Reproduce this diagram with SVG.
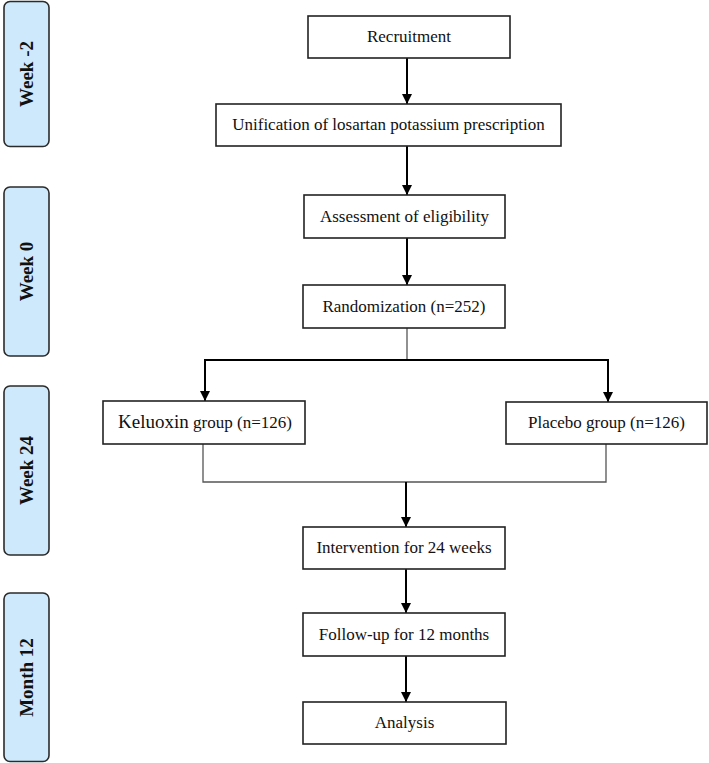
<svg xmlns="http://www.w3.org/2000/svg" width="709" height="763" viewBox="0 0 709 763">
<style>
.phase{fill:#cde9fb;stroke:#2b2b2b;stroke-width:1.6}
.ptxt{font-family:"Liberation Serif","Times New Roman",serif;font-weight:bold;font-size:19px;fill:#111;text-anchor:middle}
.box{fill:#fff;stroke:#222;stroke-width:1.6}
.txt{font-family:"Liberation Serif","Times New Roman",serif;font-size:17px;fill:#111;text-anchor:middle}
.arr{stroke:#000;stroke-width:2;fill:none;marker-end:url(#ah)}
.thick{stroke:#000;stroke-width:2;fill:none}
.thin{stroke:#555;stroke-width:1.3;fill:none}
</style>
<defs>
<marker id="ah" markerWidth="10" markerHeight="12" refX="10" refY="6" orient="auto" markerUnits="userSpaceOnUse">
<path d="M0,1 L10,6 L0,11 Z" fill="#000"/>
</marker>
</defs>
<rect width="709" height="763" fill="#fff"/>

<g id="phase-week-2"><rect class="phase" x="4" y="1.5" width="45" height="145" rx="6"/><text class="ptxt" transform="translate(32.5,74) rotate(-90)">Week -2</text></g>
<g id="phase-week0"><rect class="phase" x="4" y="187" width="45" height="169" rx="6"/><text class="ptxt" transform="translate(32.5,271.5) rotate(-90)">Week 0</text></g>
<g id="phase-week24"><rect class="phase" x="4" y="386" width="45" height="169" rx="6"/><text class="ptxt" transform="translate(32.5,470.5) rotate(-90)">Week 24</text></g>
<g id="phase-month12"><rect class="phase" x="4" y="593" width="45" height="168.5" rx="6"/><text class="ptxt" transform="translate(32.5,677.5) rotate(-90)">Month 12</text></g>

<g id="connectors">
<line class="arr" x1="407" y1="58" x2="407" y2="104"/>
<line class="arr" x1="407" y1="146" x2="407" y2="195"/>
<line class="arr" x1="407" y1="238" x2="407" y2="285"/>
<line class="thin" x1="407" y1="328" x2="407" y2="360"/>
<line class="thick" x1="204" y1="360" x2="609" y2="360"/>
<line class="arr" x1="205" y1="360" x2="205" y2="401"/>
<line class="arr" x1="608" y1="360" x2="608" y2="402"/>
<polyline class="thin" points="203,444 203,482 606,482 606,444"/>
<line class="arr" x1="406" y1="482" x2="406" y2="527"/>
<line class="arr" x1="406" y1="569" x2="406" y2="613"/>
<line class="arr" x1="406" y1="656" x2="406" y2="702"/>
</g>

<g id="recruitment"><rect class="box" x="308" y="16" width="202" height="42"/><text class="txt" x="409" y="42">Recruitment</text></g>
<g id="unification"><rect class="box" x="216" y="104" width="345" height="42"/><text class="txt" x="388.5" y="130">Unification of losartan potassium prescription</text></g>
<g id="assessment"><rect class="box" x="304" y="195" width="201" height="43"/><text class="txt" x="404.5" y="222">Assessment of eligibility</text></g>
<g id="randomization"><rect class="box" x="303" y="285" width="202" height="43"/><text class="txt" x="404" y="312">Randomization (n=252)</text></g>
<g id="keluoxin"><rect class="box" x="103" y="401" width="202" height="43"/><text class="txt" x="205" y="428"><tspan font-size="19">Keluoxin</tspan> group (n=126)</text></g>
<g id="placebo"><rect class="box" x="506" y="402" width="201" height="42"/><text class="txt" x="606.5" y="428">Placebo group (n=126)</text></g>
<g id="intervention"><rect class="box" x="303" y="527" width="202" height="42"/><text class="txt" x="404" y="553">Intervention for 24 weeks</text></g>
<g id="followup"><rect class="box" x="303" y="613" width="202" height="43"/><text class="txt" x="404" y="640">Follow-up for 12 months</text></g>
<g id="analysis"><rect class="box" x="303" y="702" width="203" height="42"/><text class="txt" x="404.5" y="728">Analysis</text></g>
</svg>
